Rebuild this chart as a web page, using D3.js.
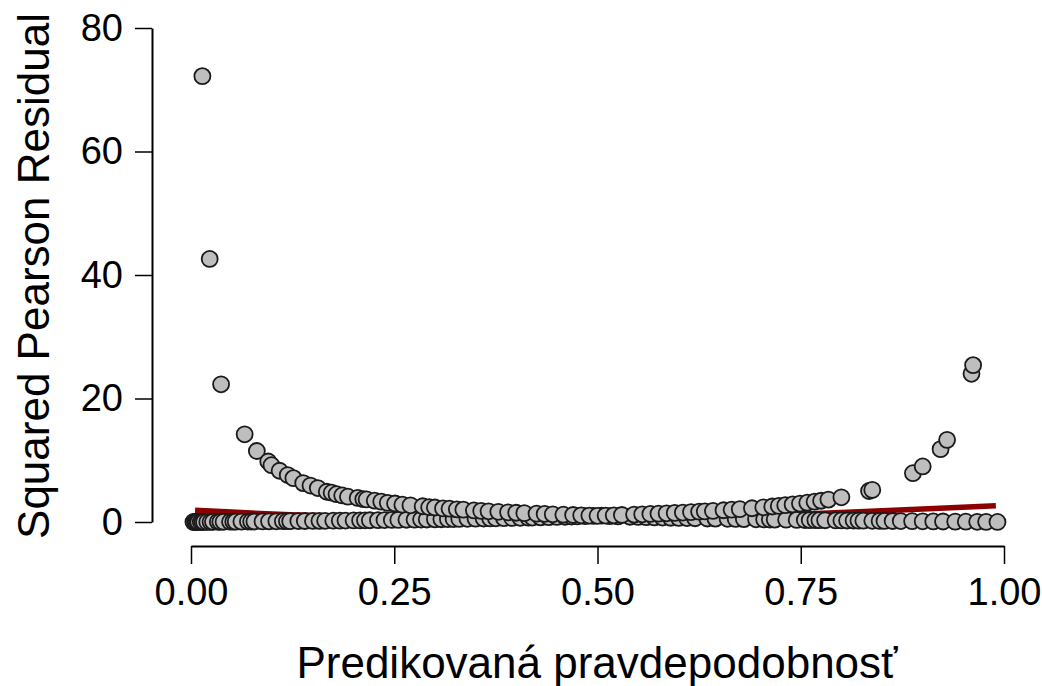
<!DOCTYPE html>
<html>
<head>
<meta charset="utf-8">
<script src="https://cdn.jsdelivr.net/npm/d3@7"></script>
<style>
  body { margin: 0; background: #fff; }
  svg text { font-family: "Liberation Sans", Arial, sans-serif; fill: #000; }
</style>
</head>
<body>
<svg id="chart" width="1042" height="686"></svg>
<script>
// observed y = 1, low predicted probability (upper left arm)
const upLeftP = [0.014, 0.023, 0.037, 0.066, 0.081, 0.095, 0.099, 0.109, 0.119, 0.126, 0.138, 0.147, 0.156, 0.167, 0.173, 0.179, 0.186, 0.193, 0.205, 0.212, 0.216, 0.226, 0.234, 0.242, 0.251, 0.26, 0.27, 0.285, 0.293, 0.30, 0.31, 0.318, 0.327, 0.335, 0.348, 0.357, 0.366, 0.378, 0.39, 0.40, 0.41, 0.425, 0.435, 0.445, 0.458, 0.47, 0.48, 0.49];
const upLeftR = [72.2, 42.6, 22.3, 14.2, 11.5, 9.8, 9.2, 8.3, 7.6, 7.1, 6.3, 5.9, 5.5, 4.9, 4.75, 4.5, 4.3, 4.1, 3.9, 3.7, 3.65, 3.45, 3.3, 3.1, 3.0, 2.8, 2.7, 2.55, 2.4, 2.35, 2.2, 2.15, 2.05, 2.0, 1.87, 1.8, 1.73, 1.65, 1.56, 1.5, 1.44, 1.35, 1.3, 1.25, 1.18, 1.13, 1.08, 1.04];

// observed y = 0, low predicted probability (bottom left row)
const lowLeftP = [0.003, 0.005, 0.006, 0.008, 0.009, 0.012, 0.014, 0.016, 0.02, 0.024, 0.027, 0.033, 0.036, 0.04, 0.048, 0.052, 0.055, 0.062, 0.07, 0.074, 0.078, 0.088, 0.096, 0.105, 0.113, 0.118, 0.122, 0.132, 0.14, 0.15, 0.158, 0.165, 0.175, 0.183, 0.19, 0.2, 0.208, 0.214, 0.22, 0.23, 0.238, 0.247, 0.255, 0.265, 0.275, 0.283, 0.29, 0.3, 0.308, 0.316, 0.323, 0.33, 0.34, 0.35, 0.36, 0.368, 0.375, 0.385, 0.395, 0.405, 0.415, 0.42, 0.43, 0.44, 0.45, 0.46, 0.468, 0.475, 0.485, 0.495, 0.505];
const lowLeftR = [0.003, 0.005, 0.006, 0.008, 0.009, 0.012, 0.014, 0.016, 0.02, 0.025, 0.028, 0.034, 0.037, 0.042, 0.05, 0.055, 0.058, 0.066, 0.075, 0.08, 0.085, 0.096, 0.106, 0.117, 0.127, 0.134, 0.139, 0.152, 0.163, 0.176, 0.188, 0.198, 0.212, 0.224, 0.235, 0.25, 0.263, 0.272, 0.282, 0.299, 0.312, 0.328, 0.342, 0.361, 0.379, 0.395, 0.408, 0.429, 0.445, 0.462, 0.477, 0.493, 0.515, 0.538, 0.563, 0.582, 0.6, 0.626, 0.653, 0.681, 0.709, 0.724, 0.754, 0.786, 0.818, 0.852, 0.88, 0.905, 0.942, 0.98, 1.02];

// observed y = 0, high predicted probability (upper right arm)
const upRightP = [0.51, 0.52, 0.53, 0.545, 0.555, 0.565, 0.575, 0.585, 0.595, 0.605, 0.615, 0.625, 0.632, 0.642, 0.655, 0.665, 0.675, 0.69, 0.704, 0.715, 0.723, 0.731, 0.74, 0.749, 0.758, 0.767, 0.775, 0.784, 0.80, 0.834, 0.838, 0.888, 0.900, 0.922, 0.930, 0.960, 0.962];
const upRightR = [1.04, 1.08, 1.13, 1.2, 1.25, 1.3, 1.35, 1.41, 1.47, 1.53, 1.6, 1.67, 1.72, 1.79, 1.9, 1.99, 2.08, 2.23, 2.38, 2.51, 2.61, 2.72, 2.85, 2.98, 3.13, 3.29, 3.44, 3.63, 4.0, 5.02, 5.2, 7.9, 9.0, 11.8, 13.3, 24.0, 25.4];

// observed y = 1, high predicted probability (bottom right row)
const lowRightP = [0.5, 0.515, 0.525, 0.54, 0.55, 0.56, 0.57, 0.58, 0.59, 0.6, 0.61, 0.62, 0.635, 0.645, 0.66, 0.67, 0.68, 0.695, 0.705, 0.712, 0.718, 0.732, 0.745, 0.755, 0.761, 0.768, 0.773, 0.78, 0.793, 0.8, 0.807, 0.815, 0.821, 0.827, 0.838, 0.847, 0.853, 0.863, 0.873, 0.887, 0.90, 0.913, 0.925, 0.94, 0.953, 0.967, 0.978, 0.992];
const lowRightR = [1.0, 0.94, 0.9, 0.85, 0.82, 0.79, 0.75, 0.72, 0.69, 0.67, 0.64, 0.61, 0.57, 0.55, 0.52, 0.49, 0.47, 0.44, 0.42, 0.4, 0.39, 0.37, 0.34, 0.32, 0.31, 0.3, 0.29, 0.28, 0.26, 0.25, 0.24, 0.23, 0.22, 0.21, 0.19, 0.18, 0.17, 0.16, 0.15, 0.13, 0.11, 0.095, 0.08, 0.064, 0.049, 0.034, 0.022, 0.008];

// smoother (red line)
const smoothP = [0.005, 0.05, 0.1, 0.2, 0.3, 0.4, 0.5, 0.6, 0.7, 0.8, 0.9, 0.99];
const smoothR = [1.9, 1.6, 1.3, 0.9, 0.7, 0.6, 0.6, 0.75, 1.05, 1.55, 2.1, 2.65];

const xTicks = [0, 0.25, 0.5, 0.75, 1];
const yTicks = [0, 20, 40, 60, 80];
const xTitle = 'Predikovaná pravdepodobnosť';
const yTitle = 'Squared Pearson Residual';

const svg = d3.select('#chart');

const xScale = d3.scaleLinear().domain([0, 1]).range([191, 1004]);
const yScale = d3.scaleLinear().domain([0, 80]).range([522, 28]);

// build point list in the same order the groups appear
let points = [];
const groups = [[lowLeftP, lowLeftR], [upLeftP, upLeftR], [lowRightP, lowRightR], [upRightP, upRightR]];
groups.forEach(g => g[0].forEach((p, i) => points.push([p, g[1][i]])));

// smoother under the points
const line = d3.line()
    .x((d, i) => xScale(d))
    .y((d, i) => yScale(smoothR[i]))
    .curve(d3.curveMonotoneX);
svg.append('path')
    .attr('d', line(smoothP))
    .attr('fill', 'none')
    .attr('stroke', '#8b0000')
    .attr('stroke-width', 5.5);

svg.append('g').selectAll('circle')
    .data(points)
    .enter().append('circle')
    .attr('cx', d => xScale(d[0]))
    .attr('cy', d => yScale(d[1]))
    .attr('r', 8)
    .attr('fill', '#bebebe')
    .attr('stroke', '#1a1a1a')
    .attr('stroke-width', 1.8);

// axes, R style (detached)
const yAxis = svg.append('g')
    .attr('transform', 'translate(152,0)')
    .call(d3.axisLeft(yScale).tickValues(yTicks).tickSize(17).tickSizeOuter(0).tickPadding(12).tickFormat(d3.format('d')));
const xAxis = svg.append('g')
    .attr('transform', 'translate(0,546)')
    .call(d3.axisBottom(xScale).tickValues(xTicks).tickSize(18).tickSizeOuter(0).tickPadding(14).tickFormat(d3.format('.2f')));

[yAxis, xAxis].forEach(ax => {
    ax.select('.domain').attr('stroke', '#000').attr('stroke-width', 2);
    ax.selectAll('.tick line').attr('stroke', '#000').attr('stroke-width', 1.5);
    ax.selectAll('.tick text')
        .style('font-family', '"Liberation Sans", Arial, sans-serif')
        .attr('font-size', 38)
        .attr('fill', '#000');
});

svg.append('text')
    .attr('x', 597)
    .attr('y', 678)
    .attr('text-anchor', 'middle')
    .attr('font-size', 44)
    .text(xTitle);

svg.append('text')
    .attr('transform', 'translate(49,276) rotate(-90)')
    .attr('text-anchor', 'middle')
    .attr('font-size', 44)
    .text(yTitle);
</script>
</body>
</html>
